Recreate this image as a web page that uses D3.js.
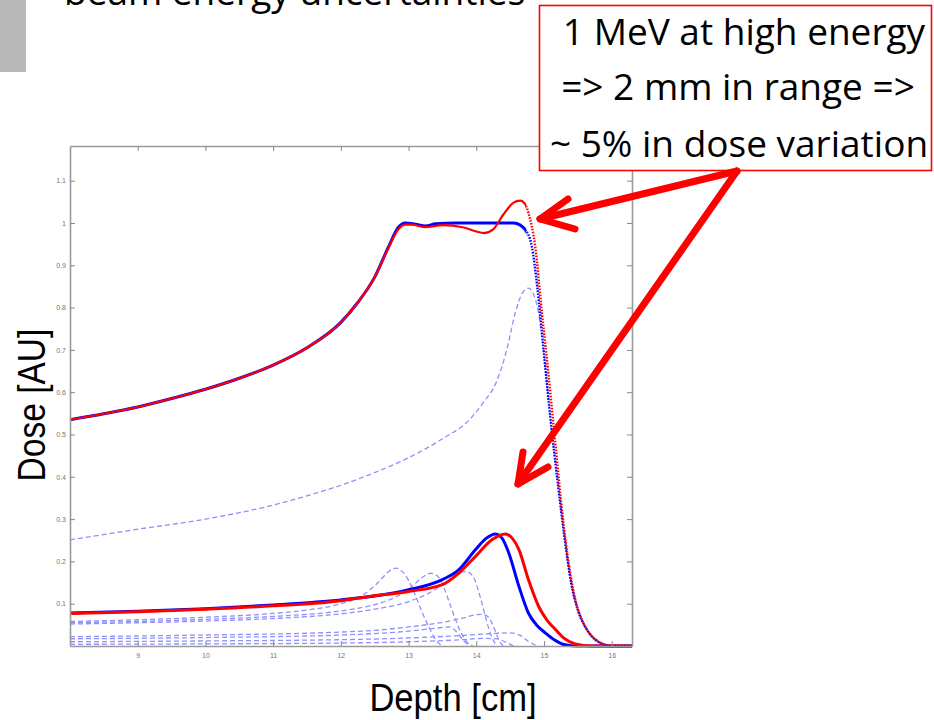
<!DOCTYPE html>
<html>
<head>
  <meta charset="utf-8" />
  <script src="https://d3js.org/d3.v7.min.js"></script>
  <style>
    * { margin: 0; padding: 0; box-sizing: border-box; }
    body { background: #fff; width: 934px; height: 720px; overflow: hidden; }
    svg { display: block; }
    .tick text { font-family: "Liberation Sans", Arial, sans-serif; font-size: 7px; fill: #777; }
    .slide { font-family: "Open Sans", "Noto Sans", sans-serif; fill: #000; }
    .axlabel { font-family: "Liberation Sans", Arial, sans-serif; fill: #000; }
  </style>
</head>
<body>
  <svg width="934" height="720"></svg>

  <script>
    // ticks
    const xTicks = [9, 10, 11, 12, 13, 14, 15, 16];
    const yTicks = [0.1, 0.2, 0.3, 0.4, 0.5, 0.6, 0.7, 0.8, 0.9, 1, 1.1];

    // spread-out Bragg peak, nominal energy (blue) and shifted energy (red)
    const sobpBlue = [[8,0.535],[8.5,0.549],[9,0.565],[9.5,0.585],[10,0.607],[10.5,0.633],[11,0.664],[11.5,0.705],[12,0.765],[12.25,0.812],[12.5,0.872],[12.7,0.942],[12.85,0.99],[12.95,1.0],[13.1,0.997],[13.25,0.993],[13.4,0.998],[13.7,1.0],[14.0,1.0],[14.3,1.0],[14.55,1.0],[14.65,0.995],[14.72,0.985],[14.82,0.945],[14.9,0.85],[15.0,0.69],[15.1,0.53],[15.2,0.39],[15.3,0.26],[15.4,0.15],[15.5,0.085],[15.6,0.048],[15.7,0.024],[15.8,0.01],[15.9,0.003],[16.0,0],[16.3,0]];
    const sobpRed = [[8,0.535],[8.5,0.549],[9,0.565],[9.5,0.585],[10,0.607],[10.5,0.633],[11,0.664],[11.5,0.705],[12,0.765],[12.25,0.812],[12.5,0.872],[12.7,0.94],[12.85,0.985],[12.95,0.996],[13.05,0.996],[13.25,0.99],[13.5,0.995],[13.8,0.99],[14.0,0.98],[14.11,0.976],[14.25,0.985],[14.4,1.02],[14.55,1.048],[14.65,1.053],[14.72,1.045],[14.77,1.024],[14.87,0.945],[14.97,0.787],[15.07,0.637],[15.17,0.475],[15.27,0.315],[15.37,0.19],[15.47,0.105],[15.56,0.062],[15.65,0.035],[15.71,0.023],[15.8,0.011],[15.9,0.003],[16.0,0],[16.3,0]];

    // single pristine peaks
    const peakBlue = [[8,0.078],[9,0.082],[10,0.088],[11,0.097],[12,0.109],[12.5,0.118],[13,0.133],[13.5,0.157],[13.74,0.18],[13.99,0.228],[14.15,0.255],[14.28,0.265],[14.38,0.255],[14.48,0.22],[14.63,0.141],[14.77,0.078],[14.9,0.048],[15.02,0.031],[15.15,0.015],[15.31,0.003],[15.5,0],[16.3,0]];
    const peakRed = [[8,0.077],[9,0.081],[10,0.087],[11,0.095],[12,0.107],[12.42,0.117],[13,0.129],[13.5,0.145],[13.74,0.172],[13.99,0.212],[14.23,0.251],[14.43,0.265],[14.53,0.255],[14.63,0.228],[14.77,0.157],[14.92,0.094],[15.05,0.06],[15.17,0.039],[15.3,0.018],[15.46,0.005],[15.7,0],[16.3,0]];

    // weighted components of the SOBP (dashed)
    const compMain = [[8,0.251],[9,0.276],[10,0.3],[11,0.333],[11.5,0.355],[12,0.38],[12.5,0.41],[13,0.445],[13.5,0.49],[13.9,0.535],[14.1,0.575],[14.3,0.625],[14.45,0.7],[14.58,0.79],[14.68,0.834],[14.77,0.846],[14.85,0.83],[14.92,0.787],[15.0,0.69],[15.1,0.53],[15.2,0.39],[15.3,0.26],[15.4,0.15],[15.5,0.085],[15.6,0.048],[15.7,0.024],[15.8,0.01],[15.9,0.003],[16.0,0]];
    const compA = [[8,0.058],[9,0.062],[10,0.068],[11,0.077],[11.5,0.085],[12,0.1],[12.3,0.118],[12.55,0.15],[12.7,0.175],[12.81,0.184],[12.9,0.177],[13.0,0.155],[13.1,0.12],[13.2,0.08],[13.3,0.045],[13.4,0.015],[13.5,0]];
    const compB = [[8,0.055],[9,0.058],[10,0.063],[11,0.07],[12,0.083],[12.5,0.098],[12.8,0.115],[13.05,0.14],[13.2,0.162],[13.33,0.172],[13.43,0.165],[13.53,0.135],[13.62,0.095],[13.7,0.06],[13.78,0.03],[13.86,0.01],[13.95,0]];
    const compC = [[8,0.052],[9,0.055],[10,0.059],[11,0.065],[12,0.076],[12.5,0.087],[13,0.105],[13.3,0.125],[13.55,0.15],[13.72,0.17],[13.85,0.176],[13.95,0.165],[14.06,0.115],[14.15,0.06],[14.22,0.025],[14.3,0]];
    const compD = [[8,0.017],[10,0.02],[12,0.026],[13,0.035],[13.4,0.042],[13.6,0.045],[13.7,0.035],[13.8,0.015],[13.9,0]];
    const compE = [[8,0.022],[10,0.026],[12,0.033],[12.5,0.037],[13,0.045],[13.5,0.056],[13.8,0.066],[14.0,0.074],[14.09,0.075],[14.18,0.068],[14.27,0.04],[14.33,0.015],[14.4,0]];
    const compF = [[8,0.01],[10,0.012],[12,0.015],[13,0.019],[13.7,0.024],[14.2,0.029],[14.5,0.031],[14.65,0.025],[14.78,0.01],[14.9,0]];
    const compG = [[8,0.004],[10,0.005],[12,0.007],[13,0.01],[13.8,0.015],[14.1,0.018],[14.3,0.017],[14.45,0.008],[14.55,0]];
    const components = [compMain, compA, compB, compC, compD, compE, compF, compG];

    const noteLines = ["1 MeV at high energy", "=> 2 mm in range =>", "~ 5% in dose variation"];

    const svg = d3.select("svg");
    const plot = { left: 70, right: 632, top: 146, bottom: 646 };

    const x = d3.scaleLinear().domain([8, 16.3]).range([plot.left, plot.right]);
    const y = d3.scaleLinear().domain([0, 1.182]).range([plot.bottom, plot.top]);

    const line = d3.line()
      .x(d => x(d[0]))
      .y(d => y(d[1]))
      .curve(d3.curveMonotoneX);

    // slide decorations (title is cut by the top edge, as on the slide)
    svg.append("rect").attr("x", 0).attr("y", 0).attr("width", 26).attr("height", 72).attr("fill", "#b9b9b9");
    svg.append("text").attr("class", "slide")
      .attr("x", 64).attr("y", 4.5)
      .style("font-size", "37px")
      .text("beam energy uncertainties");

    // clip regions: solid part and dotted distal fall-off
    const defs = svg.append("defs");
    const xSplit = x(14.74);
    defs.append("clipPath").attr("id", "solidPart")
      .append("rect").attr("x", 0).attr("y", 0).attr("width", xSplit).attr("height", 720);
    defs.append("clipPath").attr("id", "dotPart")
      .append("rect").attr("x", xSplit).attr("y", 0).attr("width", 934 - xSplit).attr("height", 720);

    // dashed components
    svg.append("g")
      .selectAll("path")
      .data(components)
      .join("path")
      .attr("d", line)
      .attr("fill", "none")
      .attr("stroke", "#8f8fff")
      .attr("stroke-width", 1.3)
      .attr("stroke-dasharray", "5,3");

    // pristine peaks
    svg.append("path").attr("d", line(peakBlue))
      .attr("fill", "none").attr("stroke", "#0000ff").attr("stroke-width", 3);
    svg.append("path").attr("d", line(peakRed))
      .attr("fill", "none").attr("stroke", "#ff0000").attr("stroke-width", 3);

    // SOBP curves
    [[sobpBlue, "#0000ff"], [sobpRed, "#ff0000"]].forEach(([data, col]) => {
      svg.append("path").attr("d", line(data))
        .attr("clip-path", "url(#solidPart)")
        .attr("fill", "none").attr("stroke", col).attr("stroke-width", col === "#ff0000" ? 2.2 : 3);
      svg.append("path").attr("d", line(data))
        .attr("clip-path", "url(#dotPart)")
        .attr("fill", "none").attr("stroke", col).attr("stroke-width", 2.4)
        .attr("stroke-dasharray", "1.6,1.4");
    });

    // axes box (MATLAB style, ticks inside)
    const styleAxis = g => {
      g.select(".domain").attr("stroke", "#9a9a9a").attr("stroke-width", 1.6);
      g.selectAll(".tick line").attr("stroke", "#888").attr("stroke-width", 1);
    };
    svg.append("g").attr("transform", `translate(0,${plot.bottom})`)
      .call(d3.axisBottom(x).tickValues(xTicks).tickSizeInner(-5).tickSizeOuter(0).tickPadding(7).tickFormat(d3.format("d")))
      .call(styleAxis);
    svg.append("g").attr("transform", `translate(0,${plot.top})`)
      .call(d3.axisTop(x).tickValues(xTicks).tickSizeInner(-5).tickSizeOuter(0).tickFormat(""))
      .call(styleAxis);
    svg.append("g").attr("transform", `translate(${plot.left},0)`)
      .call(d3.axisLeft(y).tickValues(yTicks).tickSizeInner(-5).tickSizeOuter(0).tickPadding(4).tickFormat(d3.format("")))
      .call(styleAxis);
    svg.append("g").attr("transform", `translate(${plot.right},0)`)
      .call(d3.axisRight(y).tickValues(yTicks).tickSizeInner(-5).tickSizeOuter(0).tickFormat(""))
      .call(styleAxis);

    // axis titles (narrow, tall lettering as in the source figure)
    svg.append("text").attr("class", "axlabel")
      .attr("transform", "translate(45,405) rotate(-90) scale(0.86,1)")
      .attr("text-anchor", "middle")
      .style("font-size", "39px")
      .text("Dose [AU]");
    svg.append("text").attr("class", "axlabel")
      .attr("transform", "translate(453,711) scale(0.91,1)")
      .attr("text-anchor", "middle")
      .style("font-size", "38px")
      .text("Depth [cm]");

    // annotation box
    svg.append("rect")
      .attr("x", 539.5).attr("y", 5.5).attr("width", 392).attr("height", 165)
      .attr("fill", "#fff").attr("stroke", "#ff0000").attr("stroke-width", 1.6);
    const noteY = [45, 100, 157];
    const noteX = [744, 738, 739];
    svg.append("g").selectAll("text")
      .data(noteLines)
      .join("text")
      .attr("class", "slide")
      .attr("x", (d, i) => noteX[i])
      .attr("y", (d, i) => noteY[i])
      .attr("text-anchor", "middle")
      .style("font-size", "37px")
      .text(d => d);

    // arrows
    const arrowStart = [737, 171];
    const arrows = [
      { tip: [540, 219], arms: [[568, 199], [575, 229]] },
      { tip: [518, 484], arms: [[523, 452], [548, 467]] }
    ];
    const ag = svg.append("g")
      .attr("stroke", "#ff0000").attr("stroke-width", 7)
      .attr("stroke-linecap", "round").attr("stroke-linejoin", "round").attr("fill", "none");
    arrows.forEach(a => {
      ag.append("line")
        .attr("x1", arrowStart[0]).attr("y1", arrowStart[1])
        .attr("x2", a.tip[0]).attr("y2", a.tip[1]);
      ag.append("path")
        .attr("d", d3.line()([a.arms[0], a.tip, a.arms[1]]));
    });
  </script>
</body>
</html>
